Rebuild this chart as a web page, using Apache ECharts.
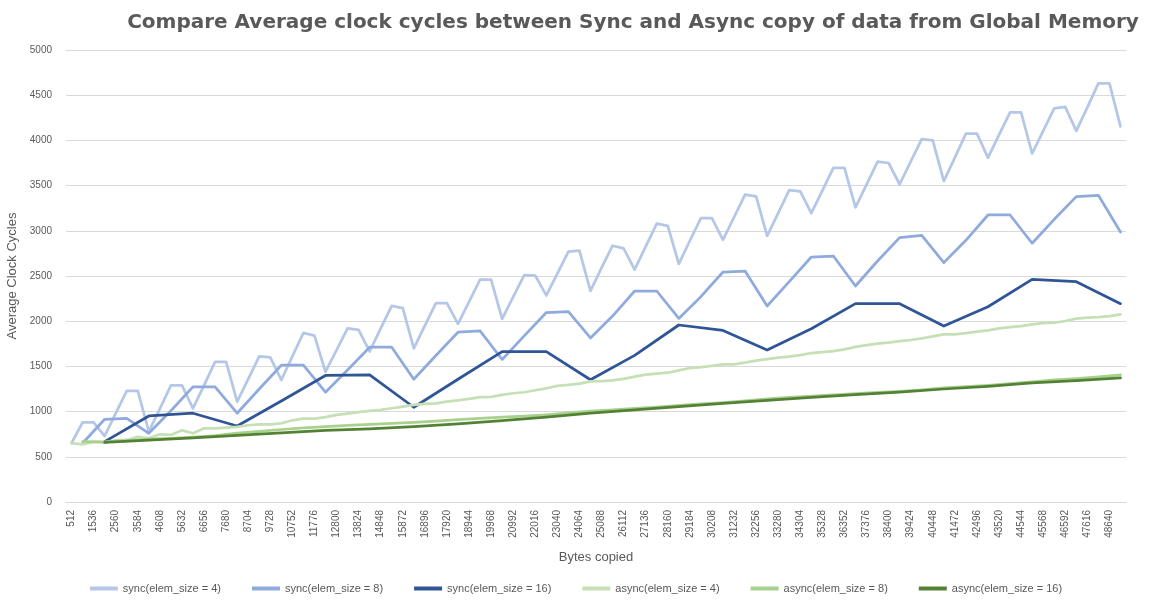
<!DOCTYPE html>
<html>
<head>
<meta charset="utf-8">
<script src="https://cdn.jsdelivr.net/npm/echarts@6/dist/echarts.min.js"></script>
<style>
  html, body { margin: 0; padding: 0; background: #fff; }
  #chart { width: 1152px; height: 600px; }
</style>
</head>
<body>
<div id="chart"></div>
<script>
// bytes copied: 512 .. 49152, every 512
var byteStep = 512;
var byteCount = 96;
var categories = [];
for (var b = 1; b <= byteCount; b++) categories.push(String(b * byteStep));

// sync, elem_size = 4 : one value per 512 bytes (from 512)
var sync4 = [
  650, 880, 880, 730,   980, 1230, 1230, 780,   1030, 1290, 1290, 1035,
  1290, 1550, 1550, 1110,   1360, 1610, 1600, 1350,   1610, 1870, 1840, 1440,
  1680, 1920, 1905, 1665,   1920, 2170, 2145, 1700,   1950, 2200, 2200, 1970,
  2215, 2460, 2460, 2025,   2270, 2510, 2505, 2285,   2525, 2770, 2780, 2335,
  2590, 2835, 2805, 2570,   2825, 3080, 3055, 2635,   2890, 3140, 3140, 2900,
  3150, 3400, 3380, 2945,   3195, 3450, 3435, 3195,   3445, 3695, 3695, 3260,
  3510, 3765, 3750, 3515,   3765, 4015, 4000, 3550,   3810, 4075, 4075, 3810,
  4060, 4310, 4310, 3855,   4105, 4355, 4370, 4105,   4365, 4630, 4630, 4155
];
// sync, elem_size = 8 : one value per 1024 bytes (from 1024)
var sync8 = [
  650, 915, 926, 760,   1010, 1273, 1273, 982,   1250, 1513, 1513, 1215,
  1460, 1712, 1712, 1358,   1620, 1878, 1893, 1576,   1837, 2096, 2107, 1815,
  2057, 2334, 2334, 2031,   2271, 2544, 2555, 2168,   2437, 2710, 2721, 2389,
  2666, 2924, 2950, 2648,   2895, 3175, 3175, 2862,   3127, 3378, 3393, 2987
];
// sync, elem_size = 16 : one value per 2048 bytes (from 2048)
var sync16 = [
  668, 952, 982, 841, 1118, 1400, 1406, 1048, 1358, 1664, 1664, 1352,
  1622, 1958, 1898, 1681, 1917, 2195, 2194, 1946, 2160, 2463, 2437, 2194
];
// async, elem_size = 4
var async4 = [
  650, 638, 664, 657, 683, 686, 720, 705, 749, 742, 793, 760,
  815, 815, 823, 830, 849, 860, 860, 871, 904, 922, 922, 938,
  963, 978, 993, 1007, 1018, 1037, 1055, 1074, 1085, 1092, 1111, 1125,
  1140, 1159, 1162, 1185, 1203, 1214, 1236, 1258, 1284, 1295, 1310, 1335,
  1338, 1345, 1363, 1386, 1408, 1419, 1430, 1456, 1482, 1493, 1507, 1522,
  1522, 1541, 1563, 1581, 1596, 1607, 1625, 1648, 1659, 1670, 1688, 1715,
  1736, 1751, 1762, 1780, 1792, 1810, 1832, 1854, 1854, 1869, 1884, 1899,
  1921, 1935, 1946, 1965, 1980, 1983, 2002, 2028, 2039, 2046, 2057, 2076
];
// async, elem_size = 8
var async8 = [
  668, 664, 680, 695, 705, 718, 735, 762, 782, 802, 820, 835,
  848, 858, 870, 880, 895, 910, 925, 938, 950, 965, 985, 1005,
  1020, 1035, 1050, 1068, 1085, 1100, 1120, 1140, 1158, 1170, 1185, 1200,
  1212, 1225, 1240, 1262, 1275, 1290, 1310, 1330, 1350, 1365, 1385, 1405
];
// async, elem_size = 16
var async16 = [
  660, 685, 708, 738, 765, 793, 810, 834, 865, 900, 940, 982,
  1020, 1055, 1090, 1125, 1157, 1187, 1216, 1250, 1279, 1318, 1342, 1372
];

var seriesDefs = [
  { name: 'sync(elem_size = 4)',  values: sync4,  first: 512,  step: 512,  color: '#B4C7E7' },
  { name: 'sync(elem_size = 8)',  values: sync8,  first: 1024, step: 1024, color: '#8FAADC' },
  { name: 'sync(elem_size = 16)', values: sync16, first: 2048, step: 2048, color: '#2F5597' },
  { name: 'async(elem_size = 4)', values: async4, first: 512,  step: 512,  color: '#C5E0B4' },
  { name: 'async(elem_size = 8)', values: async8, first: 1024, step: 1024, color: '#A9D18E' },
  { name: 'async(elem_size = 16)', values: async16, first: 2048, step: 2048, color: '#548235' }
];

function toPoints (d) {
  return d.values.map(function (v, i) {
    var bytes = d.first + i * d.step;
    return [bytes / byteStep - 1, v];
  });
}

var textColor = '#595959';
var chart = echarts.init(document.getElementById('chart'));
chart.setOption({
  animation: false,
  title: {
    text: 'Compare Average clock cycles between Sync and Async copy of data from Global Memory',
    left: 628,
    textAlign: 'center',
    top: 8,
    textStyle: {
      color: textColor,
      fontFamily: 'DejaVu Sans',
      fontWeight: 'bold',
      fontSize: 20
    }
  },
  grid: { left: 66, right: 26, top: 50, bottom: 98, outerBoundsMode: 'none', containLabel: false },
  legend: {
    bottom: 1,
    left: 'center',
    icon: 'rect',
    itemWidth: 28,
    itemHeight: 4,
    itemGap: 31,
    textStyle: { color: textColor, fontSize: 11, fontFamily: 'Liberation Sans' },
    data: seriesDefs.map(function (d) { return d.name; })
  },
  xAxis: {
    type: 'category',
    data: categories,
    name: 'Bytes copied',
    nameLocation: 'middle',
    nameGap: 49,
    nameTextStyle: { color: textColor, fontSize: 13, fontFamily: 'Liberation Sans' },
    axisLine: { show: true, lineStyle: { color: '#D9D9D9' } },
    axisTick: { show: false },
    axisLabel: {
      interval: 1,
      rotate: 90,
      margin: 8,
      color: textColor,
      fontSize: 10,
      fontFamily: 'Liberation Sans'
    }
  },
  yAxis: {
    type: 'value',
    min: 0,
    max: 5000,
    interval: 500,
    name: 'Average Clock Cycles',
    nameLocation: 'middle',
    nameGap: 42,
    nameTextStyle: { color: textColor, fontSize: 13, fontFamily: 'Liberation Sans' },
    axisLine: { show: false },
    axisTick: { show: false },
    axisLabel: {
      color: textColor,
      fontSize: 10,
      margin: 14,
      fontFamily: 'Liberation Sans',
      formatter: function (v) { return String(v); }
    },
    splitLine: { lineStyle: { color: '#D9D9D9', width: 1 } }
  },
  series: seriesDefs.map(function (d) {
    return {
      name: d.name,
      type: 'line',
      data: toPoints(d),
      showSymbol: false,
      symbol: 'none',
      connectNulls: true,
      color: d.color,
      lineStyle: { color: d.color, width: 2.75, cap: 'round', join: 'round' }
    };
  })
});
</script>
</body>
</html>
